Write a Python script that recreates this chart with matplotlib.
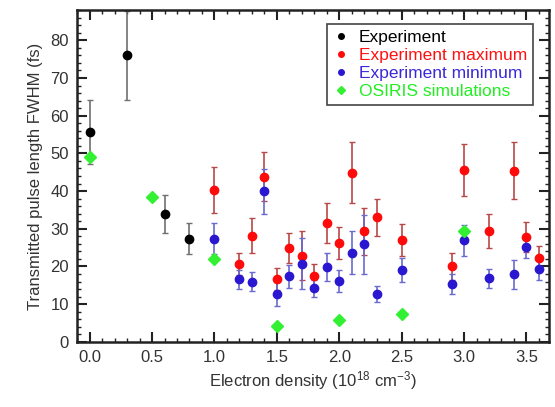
import matplotlib
matplotlib.use('Agg')
import matplotlib.pyplot as plt
from matplotlib.lines import Line2D
from matplotlib.ticker import MultipleLocator, FormatStrFormatter

plt.rcParams['font.family'] = ['Liberation Sans', 'DejaVu Sans']
plt.rcParams['mathtext.default'] = 'regular'

# Experiment (mean)
exp_x = [0.0, 0.3, 0.6, 0.8]
exp_y = [55.8, 76.0, 33.9, 27.4]
exp_err = [8.5, 11.8, 5.0, 4.2]

# Experiment maximum
max_x = [1.0, 1.2, 1.3, 1.4, 1.5, 1.6, 1.7, 1.8, 1.9, 2.0,
         2.1, 2.2, 2.3, 2.5, 2.9, 3.0, 3.2, 3.4, 3.5, 3.6]
max_y = [40.3, 20.7, 28.2, 43.8, 16.7, 24.8, 22.9, 17.6, 31.5, 26.3,
         44.9, 29.3, 33.0, 27.0, 20.0, 45.6, 29.5, 45.4, 27.9, 22.2]
max_err = [6.0, 3.0, 4.7, 6.5, 3.0, 4.0, 6.4, 3.0, 5.4, 4.3,
           8.0, 6.3, 4.9, 4.3, 3.5, 6.9, 4.5, 7.6, 4.0, 3.3]

# Experiment minimum
min_x = max_x
min_y = [27.4, 16.6, 16.0, 39.9, 12.6, 17.4, 20.7, 14.2, 19.8, 16.2,
         23.7, 25.9, 12.7, 19.1, 15.3, 26.9, 16.9, 17.9, 25.3, 19.4]
min_err = [4.2, 2.6, 2.6, 6.0, 3.2, 3.0, 6.8, 2.3, 3.7, 2.9,
           5.7, 7.8, 2.0, 3.1, 2.6, 4.0, 2.5, 3.8, 3.0, 2.9]

# OSIRIS simulations
sim_x = [0.0, 0.5, 1.0, 1.5, 2.0, 2.5, 3.0]
sim_y = [49.0, 38.5, 21.9, 4.3, 5.7, 7.4, 29.5]

labels = ['Experiment', 'Experiment maximum', 'Experiment minimum', 'OSIRIS simulations']
colors = ['black', '#ff0a0a', '#2a18d0', '#33f033']

fig = plt.figure(figsize=(5.55, 4.07), dpi=100)
ax = fig.add_axes([0.139, 0.160, 0.850, 0.815])

ax.errorbar(exp_x, exp_y, yerr=exp_err, fmt='o', color=colors[0], ecolor='#707070',
            ms=6, capsize=2, elinewidth=1.2)
ax.errorbar(max_x, max_y, yerr=max_err, fmt='o', color=colors[1], ecolor='#b84848',
            ms=6, capsize=2, elinewidth=1.2)
ax.errorbar(min_x, min_y, yerr=min_err, fmt='o', color=colors[2], ecolor='#6a6ad0',
            ms=6, capsize=2, elinewidth=1.2)
ax.plot(sim_x, sim_y, 'D', color=colors[3], ms=6, zorder=5)

ax.set_xlim(-0.1, 3.68)
ax.set_ylim(0, 88)
ax.xaxis.set_major_locator(MultipleLocator(0.5))
ax.xaxis.set_minor_locator(MultipleLocator(0.1))
ax.yaxis.set_major_locator(MultipleLocator(10))
ax.yaxis.set_minor_locator(MultipleLocator(2))
ax.xaxis.set_major_formatter(FormatStrFormatter('%.1f'))
ax.tick_params(which='both', direction='in', top=True, right=True, colors='#222222',
               labelcolor='#333333', labelsize=12)
ax.tick_params(which='major', length=7, width=1.5, pad=6)
ax.tick_params(which='minor', length=3, width=1)
for s in ax.spines.values():
    s.set_linewidth(1.8)
    s.set_color('#222222')

ax.set_xlabel('Electron density (10$^{18}$ cm$^{-3}$)', fontsize=12, color='#333333', labelpad=3)
ax.set_ylabel('Transmitted pulse length FWHM (fs)', fontsize=12, color='#333333', labelpad=5)

# legend shows only small markers, no error bars
handles = [Line2D([], [], ls='none', marker='o', color=colors[0], ms=4),
           Line2D([], [], ls='none', marker='o', color=colors[1], ms=4),
           Line2D([], [], ls='none', marker='o', color=colors[2], ms=4),
           Line2D([], [], ls='none', marker='D', color=colors[3], ms=4)]
leg = ax.legend(handles, labels, loc='upper right', fontsize=12.5, handletextpad=0.5,
                handlelength=1.0, borderpad=0.35, labelspacing=0.17, fancybox=False,
                framealpha=1, bbox_to_anchor=(0.985, 0.985))
leg.get_frame().set_edgecolor('#444444')
leg.get_frame().set_linewidth(1.2)
for txt, c in zip(leg.get_texts(), ['black', '#ff1010', '#3a28d8', '#22ee22']):
    txt.set_color(c)

fig.savefig('out.png', dpi=100)
